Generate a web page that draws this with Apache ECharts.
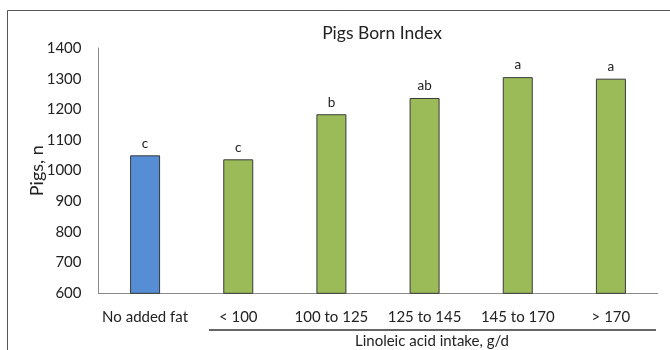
<!DOCTYPE html>
<html><head><meta charset="utf-8">
<script src="https://cdn.jsdelivr.net/npm/echarts@6/dist/echarts.min.js"></script>
<style>html,body{margin:0;padding:0;background:#fff}#c{width:670px;height:350px}</style>
</head><body><div id="c"></div>
<script>
const categories = ['No added fat', '< 100', '100 to 125', '125 to 145', '145 to 170', '> 170'];
const values = [1050, 1037, 1184, 1237, 1305, 1300];
const letters = ['c', 'c', 'b', 'ab', 'a', 'a'];
const yTicks = { min: 600, max: 1400, interval: 100 };

const FONT = 'Lato';
const chart = echarts.init(document.getElementById('c'), null, {renderer: 'canvas'});
chart.setOption({
  animation: false,
  backgroundColor: '#fff',
  title: {
    text: 'Pigs Born Index', left: 377, top: 19, textAlign: 'center',
    textStyle: {fontFamily: FONT, fontSize: 17.5, fontWeight: 'normal', color: '#222'}
  },
  grid: {left: 98.5, right: 12.5, top: 48, bottom: 56.7},
  xAxis: {
    type: 'category', data: categories,
    axisLine: {lineStyle: {color: '#8a8a8a', width: 1}},
    axisTick: {show: false},
    axisLabel: {interval: 0, fontFamily: FONT, fontSize: 15, color: '#222', margin: 16}
  },
  yAxis: {
    type: 'value', min: yTicks.min, max: yTicks.max, interval: yTicks.interval,
    name: 'Pigs, n', nameLocation: 'middle', nameGap: 52, nameRotate: 90, nameMoveOverlap: false,
    nameTextStyle: {fontFamily: FONT, fontSize: 18, color: '#222'},
    axisLine: {show: true, lineStyle: {color: '#8a8a8a', width: 1}},
    axisTick: {show: false},
    splitLine: {show: false},
    axisLabel: {formatter: v => String(v), fontFamily: FONT, fontSize: 15, color: '#222', margin: 17}
  },
  series: [{
    type: 'bar', data: values, barWidth: 30,
    itemStyle: {
      color: p => p.dataIndex === 0 ? '#558ED5' : '#9BBB59',
      borderColor: '#3a3a3a', borderWidth: 1
    },
    label: {
      show: true, position: 'top', distance: 5,
      formatter: p => letters[p.dataIndex],
      fontFamily: FONT, fontSize: 13.5, color: '#222'
    }
  }],
  graphic: [
    {type: 'line', shape: {x1: 7.5, y1: 10.5, x2: 670, y2: 10.5}, style: {stroke: '#555', lineWidth: 1}},
    {type: 'line', shape: {x1: 7.5, y1: 10.5, x2: 7.5, y2: 350}, style: {stroke: '#555', lineWidth: 1}},
    {type: 'line', shape: {x1: 209, y1: 330, x2: 656, y2: 330}, style: {stroke: '#333', lineWidth: 1.5}},
    {type: 'text', x: 432, y: 341, style: {text: 'Linoleic acid intake, g/d', fontFamily: FONT, fontSize: 15, fill: '#222', textAlign: 'center', textVerticalAlign: 'middle'}}
  ]
});
</script></body></html>
